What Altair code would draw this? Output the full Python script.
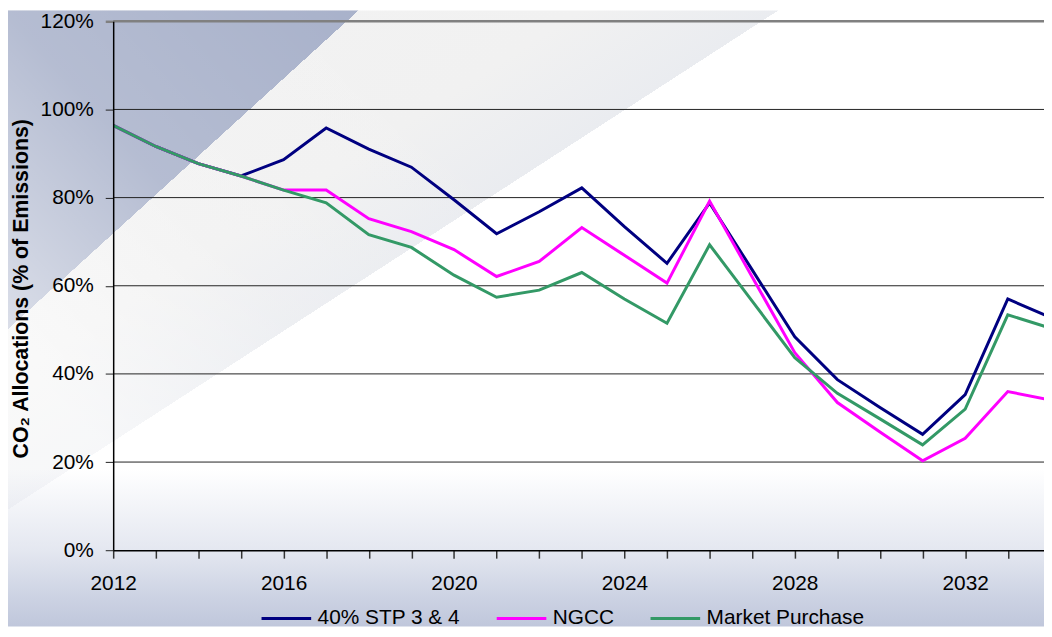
import altair as alt
import pandas as pd

years = [2012, 2013, 2014, 2015, 2016, 2017, 2018, 2019, 2020, 2021, 2022, 2023,
         2024, 2025, 2026, 2027, 2028, 2029, 2030, 2031, 2032, 2033, 2034]
stp = [96.4, 91.6, 87.7, 84.9, 88.6, 95.8, 91.0, 86.9, 79.5, 71.8, 76.8, 82.2,
       73.4, 65.1, 78.8, 63.6, 48.4, 38.7, 32.4, 26.3, 35.3, 57.0, 52.8]
ngcc = [96.4, 91.6, 87.7, 84.9, 81.7, 81.7, 75.2, 72.3, 68.2, 62.1, 65.5, 73.2,
        66.9, 60.6, 79.2, 62.0, 44.8, 33.5, 26.8, 20.3, 25.4, 36.0, 34.1]
market = [96.4, 91.6, 87.7, 84.9, 81.7, 78.8, 71.6, 68.7, 62.4, 57.4, 59.0, 63.0,
          57.0, 51.5, 69.3, 56.5, 43.7, 35.6, 29.8, 23.9, 32.0, 53.4, 50.4]

series_names = ["40% STP 3 & 4", "NGCC", "Market Purchase"]
series_colors = ["#000080", "#FF00FF", "#339966"]
x_ticks = [2012, 2013, 2014, 2015, 2016, 2017, 2018, 2019, 2020, 2021, 2022,
           2023, 2024, 2025, 2026, 2027, 2028, 2029, 2030, 2031, 2032, 2033]
y_ticks = [0, 20, 40, 60, 80, 100, 120]
grid_vals = [20, 40, 60, 80, 100]
top_vals = [120]

rows = []
for name, vals in zip(series_names, [stp, ngcc, market]):
    for yr, v in zip(years, vals):
        rows.append({"year": yr, "value": v, "series": name})
df = pd.DataFrame(rows)

W, H = 938, 533
FONT = "Liberation Sans"

bg = pd.DataFrame({"bg": [0]})


def bg_rect(fill):
    return alt.Chart(bg).mark_rect(fill=fill, strokeWidth=0).encode(
        x=alt.value(-106), x2=alt.value(938), y=alt.value(-11), y2=alt.value(610)
    )


light = bg_rect({
    "gradient": "linear", "x1": 0, "y1": 0, "x2": 1, "y2": 0.918,
    "stops": [
        {"offset": 0, "color": "#f3f3f3"},
        {"offset": 0.30, "color": "#f1f1f1"},
        {"offset": 0.4035, "color": "#eaecf0"},
        {"offset": 0.4036, "color": "rgba(255,255,255,0)"},
        {"offset": 1, "color": "rgba(255,255,255,0)"},
    ],
})
dark = bg_rect({
    "gradient": "linear", "x1": 0, "y1": 0, "x2": 1, "y2": 0.6544,
    "stops": [
        {"offset": 0, "color": "#a8b1ca"},
        {"offset": 0.2369, "color": "#a8b1ca"},
        {"offset": 0.2370, "color": "rgba(255,255,255,0)"},
        {"offset": 1, "color": "rgba(255,255,255,0)"},
    ],
})
fade = bg_rect({
    "gradient": "linear", "x1": 1, "y1": 0, "x2": 0, "y2": 0.541,
    "stops": [
        {"offset": 0, "color": "rgba(255,255,255,0)"},
        {"offset": 0.5, "color": "rgba(255,255,255,0)"},
        {"offset": 0.774, "color": "rgba(255,255,255,0.15)"},
        {"offset": 0.95, "color": "rgba(255,255,255,0.5)"},
        {"offset": 1, "color": "rgba(255,255,255,0.6)"},
    ],
})
bottom = bg_rect({
    "gradient": "linear", "x1": 0, "y1": 0, "x2": 0, "y2": 1,
    "stops": [
        {"offset": 0, "color": "rgba(188,196,218,0)"},
        {"offset": 0.744, "color": "rgba(188,196,218,0)"},
        {"offset": 0.876, "color": "rgba(188,196,218,0.4)"},
        {"offset": 0.953, "color": "rgba(188,196,218,0.76)"},
        {"offset": 1, "color": "rgba(186,194,216,0.92)"},
    ],
})

x_enc = alt.X(
    "year:Q",
    scale=alt.Scale(domain=[2012, 2033.85], nice=False, zero=False),
    axis=alt.Axis(
        values=x_ticks, title=None, grid=False, zindex=1,
        labelExpr="(datum.value - 2012) % 4 == 0 ? '' + datum.value : ''",
        labelFont=FONT, labelFontSize=21, labelColor="black",
        labelPadding=15, tickSize=8, tickColor="#333333", tickWidth=1.5,
        domainColor="black", domainWidth=1.5, labelFlush=False,
    ),
)
y_scale = alt.Scale(domain=[0, 120], nice=False)
y_enc = alt.Y(
    "value:Q",
    scale=y_scale,
    axis=alt.Axis(
        values=y_ticks, labelExpr="datum.value + '%'", grid=False, zindex=1,
        title="CO₂ Allocations (% of Emissions)",
        titleFont=FONT, titleFontSize=21.5, titleFontWeight="bold",
        titleColor="black", titleX=-86, titleY=269,
        titleBaseline="alphabetic", titleAngle=270,
        labelFont=FONT, labelFontSize=21, labelColor="black",
        labelPadding=12, tickSize=8,
        tickColor={"condition": {"test": "datum.value == 120", "value": "#808080"}, "value": "#222222"},
        tickWidth={"condition": {"test": "datum.value == 120", "value": 2.5}, "value": 1},
        domainColor="black", domainWidth=1.5,
    ),
)
color_enc = alt.Color(
    "series:N",
    scale=alt.Scale(domain=series_names, range=series_colors),
    legend=alt.Legend(
        title=None, orient="none", direction="horizontal",
        legendX=148, legendY=575,
        symbolType="stroke", symbolSize=2500, symbolStrokeWidth=3,
        labelFont=FONT, labelFontSize=21, labelColor="black",
        labelOffset=5, columnPadding=30, labelLimit=400,
    ),
)

grid = alt.Chart(pd.DataFrame({"value": grid_vals})).mark_rule(
    color="#222222", strokeWidth=1
).encode(y=y_enc)
top = alt.Chart(pd.DataFrame({"value": top_vals})).mark_rule(
    color="#808080", strokeWidth=2.5
).encode(y=y_enc)

line_layers = []
for name in series_names:
    line_layers.append(
        alt.Chart(df).transform_filter(alt.datum.series == name)
        .mark_line(strokeWidth=3, clip=True)
        .encode(x=x_enc, y=y_enc, color=color_enc)
    )

chart = alt.layer(light, dark, fade, bottom, grid, top, *line_layers).properties(
    width=W, height=H,
    padding={"left": 106, "top": 11, "right": 0, "bottom": 77},
    autosize=alt.AutoSizeParams(type="none"),
    background="white",
).configure_view(stroke=None)

chart.save("out.html", embed_options={"renderer": "svg", "actions": False})
